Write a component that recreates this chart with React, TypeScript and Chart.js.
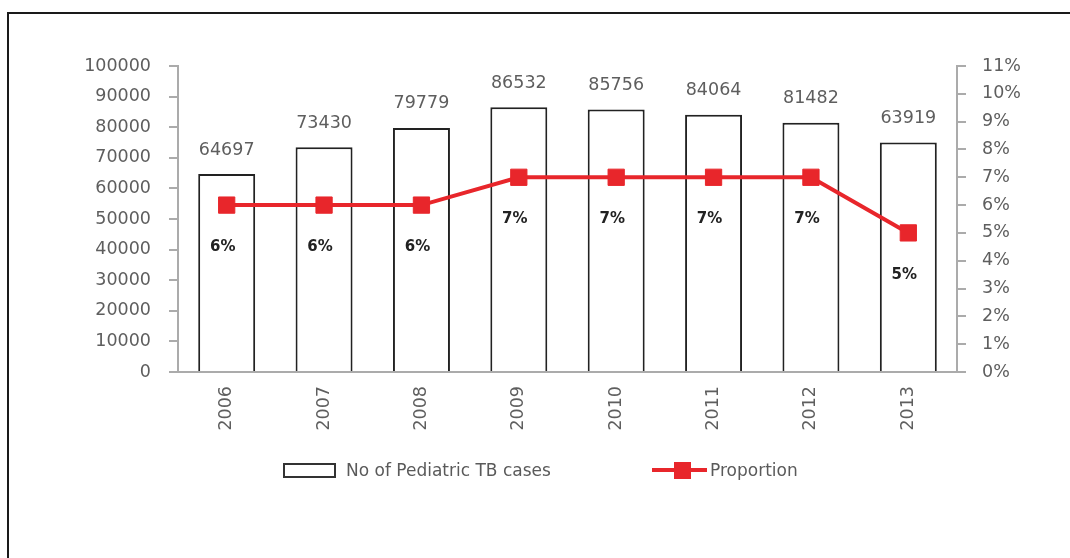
import React, { useEffect, useRef } from "react";
import { Chart, registerables } from "chart.js";

Chart.register(...registerables);

const years = ["2006", "2007", "2008", "2009", "2010", "2011", "2012", "2013"];
const caseCounts = [64697, 73430, 79779, 86532, 85756, 84064, 81482, 75000];
const caseLabels = ["64697", "73430", "79779", "86532", "85756", "84064", "81482", "63919"];
const proportion = [6, 6, 6, 7, 7, 7, 7, 5];
const leftMax = 100000;
const leftStep = 10000;
const rightMax = 11;
const rightStep = 1;

const RED = "#e8262b";
const TICK_FONT = '"DejaVu Sans", sans-serif';
const GRAY_TEXT = "#5e5e5e";
const AXIS_GRAY = "#ababab";

const labelPlugin = {
  id: "valueLabels",
  afterDatasetsDraw(chart: any) {
    const ctx = chart.ctx;
    ctx.save();
    ctx.textAlign = "center";
    ctx.textBaseline = "middle";
    ctx.font = `17.5px ${TICK_FONT}`;
    ctx.fillStyle = GRAY_TEXT;
    chart.getDatasetMeta(0).data.forEach((el: any, i: number) => {
      ctx.fillText(caseLabels[i], el.x, el.y - 24);
    });
    ctx.font = `bold 15px ${TICK_FONT}`;
    ctx.fillStyle = "#222222";
    chart.getDatasetMeta(1).data.forEach((el: any, i: number) => {
      ctx.fillText(proportion[i] + "%", el.x - 4, el.y + 42);
    });
    ctx.restore();
  },
};

export default function App() {
  const canvasRef = useRef<HTMLCanvasElement | null>(null);

  useEffect(() => {
    if (!canvasRef.current) return;
    const chart = new Chart(canvasRef.current, {
      type: "bar",
      data: {
        labels: years,
        datasets: [
          {
            type: "bar",
            label: "No of Pediatric TB cases",
            data: caseCounts,
            backgroundColor: "#ffffff",
            borderColor: "#222222",
            borderWidth: 2,
            borderSkipped: "bottom",
            barPercentage: 0.585,
            categoryPercentage: 1,
            yAxisID: "y",
            order: 1,
          },
          {
            type: "line",
            label: "Proportion",
            data: proportion,
            borderColor: RED,
            backgroundColor: RED,
            borderWidth: 4,
            pointStyle: "rect",
            pointRadius: 11.5,
            pointBorderWidth: 1,
            pointBorderColor: RED,
            pointBackgroundColor: RED,
            tension: 0,
            yAxisID: "y1",
            order: 0,
          },
        ],
      },
      options: {
        responsive: false,
        animation: false,
        events: [],
        layout: { padding: { top: 66, left: 0, right: 0, bottom: 0 } },
        plugins: {
          legend: { display: false },
          tooltip: { enabled: false },
          title: { display: false },
        },
        scales: {
          x: {
            offset: true,
            grid: { display: false, drawTicks: false },
            border: { display: true, color: AXIS_GRAY, width: 2 },
            ticks: {
              minRotation: 90,
              maxRotation: 90,
              padding: 14,
              color: GRAY_TEXT,
              font: { family: TICK_FONT, size: 17.5 },
            },
            afterFit: (s: any) => {
              s.height = 186;
            },
          },
          y: {
            position: "left",
            min: 0,
            max: leftMax,
            grid: {
              display: true,
              drawOnChartArea: false,
              drawTicks: true,
              tickLength: 9,
              color: AXIS_GRAY,
              lineWidth: 2,
            },
            border: { display: true, color: AXIS_GRAY, width: 2 },
            ticks: {
              stepSize: leftStep,
              padding: 18,
              color: GRAY_TEXT,
              font: { family: TICK_FONT, size: 17.5 },
              callback: (v: any) => String(v),
            },
            afterFit: (s: any) => {
              s.width = 178;
            },
          },
          y1: {
            position: "right",
            min: 0,
            max: rightMax,
            grid: {
              display: true,
              drawOnChartArea: false,
              drawTicks: true,
              tickLength: 9,
              color: AXIS_GRAY,
              lineWidth: 2,
            },
            border: { display: true, color: AXIS_GRAY, width: 2 },
            ticks: {
              stepSize: rightStep,
              padding: 16,
              color: GRAY_TEXT,
              font: { family: TICK_FONT, size: 17.5 },
              callback: (v: any) => v + "%",
            },
            afterFit: (s: any) => {
              s.width = 1070 - 957;
            },
          },
        },
      },
      plugins: [labelPlugin],
    });
    return () => chart.destroy();
  }, []);

  const legendText: React.CSSProperties = {
    position: "absolute",
    top: 460,
    fontFamily: '"DejaVu Sans", sans-serif',
    fontSize: 17,
    color: "#5a5a5a",
    lineHeight: "20px",
    whiteSpace: "nowrap",
  };

  return (
    <div style={{ position: "fixed", left: 0, top: 0, width: 1070, height: 558, background: "#ffffff", overflow: "hidden" }}>
      <div
        style={{
          position: "absolute",
          left: 7,
          top: 12,
          right: 0,
          bottom: 0,
          borderLeft: "2px solid #1a1a1a",
          borderTop: "2px solid #1a1a1a",
        }}
      />
      <canvas ref={canvasRef} width={1070} height={558} style={{ position: "absolute", left: 0, top: 0, display: "block" }} />
      <div
        style={{
          position: "absolute",
          left: 283,
          top: 463,
          width: 53,
          height: 15,
          boxSizing: "border-box",
          border: "2px solid #333333",
          background: "#ffffff",
        }}
      />
      <div style={{ ...legendText, left: 346 }}>No of Pediatric TB cases</div>
      <div style={{ position: "absolute", left: 652, top: 468, width: 55, height: 4, background: RED }} />
      <div style={{ position: "absolute", left: 674, top: 462, width: 17, height: 17, background: RED }} />
      <div style={{ ...legendText, left: 710 }}>Proportion</div>
    </div>
  );
}
